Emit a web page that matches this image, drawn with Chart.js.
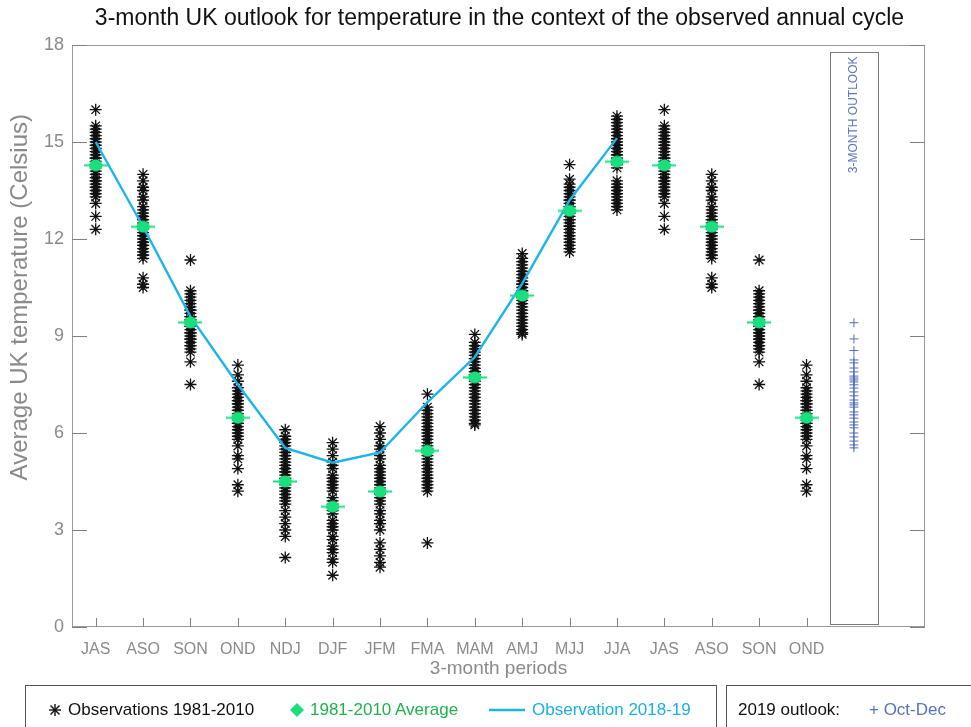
<!DOCTYPE html>
<html>
<head>
<meta charset="utf-8">
<script src="https://cdn.jsdelivr.net/npm/chart.js@4.4.1/dist/chart.umd.min.js"></script>
<style>
  html, body { margin: 0; padding: 0; background: #fff; }
  #wrap { position: relative; width: 971px; height: 727px; overflow: hidden;
          font-family: "Liberation Sans", Arial, sans-serif; }
  #title { position: absolute; left: 14px; top: 4px; width: 971px; text-align: center;
           font-size: 23px; color: #111; }
  #chart { position: absolute; left: 0; top: 0; }
  .box { position: absolute; top: 685px; height: 60px; border: 1px solid #555; box-sizing: border-box; }
  .item { position: absolute; top: 14px; font-size: 17px; white-space: nowrap; line-height: 20px; }
</style>
</head>
<body>
<div id="wrap">
  <canvas id="chart" width="971" height="727"></canvas>
  <div id="title">3-month UK outlook for temperature in the context of the observed annual cycle</div>
  <div class="box" style="left:25px; width:692px;">
    <svg width="14" height="14" style="position:absolute; left:22px; top:17px;" viewBox="0 0 14 14">
      <g stroke="#111" stroke-width="1.4"><line x1="7" y1="1" x2="7" y2="13"/><line x1="1" y1="7" x2="13" y2="7"/><line x1="2.5" y1="2.5" x2="11.5" y2="11.5"/><line x1="11.5" y1="2.5" x2="2.5" y2="11.5"/></g>
    </svg>
    <div class="item" style="left:42px; color:#111;">Observations 1981-2010</div>
    <svg width="14" height="14" style="position:absolute; left:264px; top:17px;" viewBox="0 0 14 14">
      <polygon points="7,0 14,7 7,14 0,7" fill="#19e07f"/>
    </svg>
    <div class="item" style="left:284px; color:#22b04c;">1981-2010 Average</div>
    <svg width="36" height="14" style="position:absolute; left:463px; top:17px;" viewBox="0 0 36 14">
      <line x1="0" y1="7" x2="36" y2="7" stroke="#1bb5ec" stroke-width="2.5"/>
    </svg>
    <div class="item" style="left:506px; color:#1ab0e6;">Observation 2018-19</div>
  </div>
  <div class="box" style="left:726px; width:260px;">
    <div class="item" style="left:11px; color:#111;">2019 outlook:</div>
    <div class="item" style="left:142px; color:#5573bd;">+ Oct-Dec</div>
  </div>
</div>
<script>
// ---- 3-month periods along the x axis ----
const periods = ['JAS','ASO','SON','OND','NDJ','DJF','JFM','FMA','MAM','AMJ','MJJ','JJA','JAS','ASO','SON','OND'];
const yTicks = [0, 3, 6, 9, 12, 15, 18];

// ---- observed 3-month mean UK temperatures, 1981-2010 (deg C) ----
const obsJAS = [16.0,15.5,15.4,15.3,15.2,15.1,15.0,14.9,14.8,14.7,14.6,14.5,14.5,14.4,14.3,14.3,14.2,14.1,14.0,13.9,13.8,13.8,13.7,13.6,13.5,13.4,13.3,13.1,12.7,12.3];
const obsASO = [14.0,13.8,13.6,13.5,13.3,13.2,13.0,12.9,12.8,12.7,12.6,12.6,12.5,12.4,12.4,12.3,12.2,12.1,12.0,11.9,11.8,11.8,11.7,11.6,11.5,11.5,11.4,10.8,10.6,10.5];
const obsSON = [11.35,10.4,10.3,10.2,10.1,10.0,9.9,9.8,9.8,9.7,9.6,9.6,9.5,9.5,9.4,9.3,9.3,9.2,9.1,9.1,9.0,8.9,8.9,8.8,8.7,8.7,8.6,8.5,8.2,7.5];
const obsOND = [8.1,7.8,7.6,7.4,7.3,7.2,7.1,7.0,7.0,6.9,6.9,6.8,6.7,6.7,6.6,6.5,6.4,6.3,6.3,6.2,6.1,6.0,5.9,5.8,5.6,5.3,5.2,4.9,4.4,4.2];
const obsNDJ = [6.1,5.9,5.8,5.7,5.6,5.5,5.4,5.3,5.2,5.1,5.0,4.9,4.8,4.8,4.7,4.6,4.5,4.4,4.3,4.2,4.1,4.0,3.9,3.8,3.6,3.4,3.2,3.0,2.8,2.15];
const obsDJF = [5.7,5.5,5.3,5.1,5.0,4.9,4.7,4.6,4.5,4.4,4.3,4.2,4.0,3.9,3.8,3.7,3.6,3.5,3.3,3.2,3.1,3.0,2.8,2.7,2.5,2.4,2.3,2.1,2.0,1.6];
const obsJFM = [6.2,6.0,5.8,5.6,5.5,5.3,5.2,5.0,4.9,4.8,4.7,4.6,4.5,4.4,4.3,4.2,4.1,4.0,3.9,3.8,3.6,3.5,3.3,3.2,3.0,2.6,2.4,2.2,2.0,1.85];
const obsFMA = [7.2,6.8,6.7,6.6,6.5,6.4,6.3,6.2,6.1,6.0,5.9,5.8,5.7,5.6,5.5,5.5,5.4,5.3,5.2,5.1,5.0,4.9,4.8,4.7,4.6,4.5,4.4,4.3,4.2,2.6];
const obsMAM = [9.05,8.8,8.7,8.6,8.5,8.4,8.3,8.2,8.1,8.0,7.9,7.9,7.8,7.8,7.7,7.6,7.5,7.4,7.3,7.2,7.1,7.0,6.9,6.8,6.7,6.6,6.5,6.4,6.3,6.25];
const obsAMJ = [11.55,11.4,11.3,11.2,11.1,11.0,10.9,10.8,10.7,10.6,10.6,10.5,10.4,10.4,10.3,10.3,10.2,10.2,10.1,10.0,9.9,9.8,9.7,9.6,9.5,9.4,9.3,9.2,9.1,9.05];
const obsMJJ = [14.3,13.85,13.7,13.6,13.5,13.4,13.3,13.2,13.2,13.1,13.0,13.0,12.9,12.9,12.8,12.8,12.7,12.6,12.6,12.5,12.4,12.4,12.3,12.2,12.1,12.0,11.9,11.8,11.7,11.6];
const obsJJA = [15.8,15.7,15.6,15.5,15.4,15.3,15.2,15.1,15.0,14.9,14.9,14.8,14.7,14.6,14.6,14.5,14.5,14.4,14.3,14.2,13.8,13.7,13.6,13.5,13.4,13.3,13.2,13.1,13.0,12.9];
const obsByPeriod = [obsJAS, obsASO, obsSON, obsOND, obsNDJ, obsDJF, obsJFM, obsFMA, obsMAM, obsAMJ, obsMJJ, obsJJA, obsJAS, obsASO, obsSON, obsOND];

// ---- 1981-2010 average for each period ----
const avg1981to2010 = [14.28, 12.38, 9.42, 6.47, 4.5, 3.72, 4.19, 5.45, 7.72, 10.25, 12.87, 14.39, 14.28, 12.38, 9.42, 6.47];

// ---- observed 2018-19 values (JAS 2018 to JJA 2019) ----
const obs2018to19 = [15.0, 12.38, 9.6, 7.5, 5.54, 5.08, 5.4, 6.95, 8.35, 10.62, 13.2, 15.12];

// ---- Oct-Dec 2019 outlook ensemble ----
const outlookOctDec = [9.41,8.91,8.55,8.26,8.17,8.01,7.89,7.76,7.70,7.64,7.58,7.49,7.39,7.27,7.15,7.02,6.93,6.87,6.80,6.65,6.56,6.46,6.34,6.25,6.16,6.00,5.88,5.75,5.63,5.54];

const GREY = '#8a8a8a';
const GREEN = '#19e07f';
const CYAN = '#1bb5ec';
const BLUE = '#4f6db8';
const FONT = '"Liberation Sans", Arial, sans-serif';
const Y_TITLE = 'Average UK temperature (Celsius)';

// average marker: filled dot with a short horizontal bar
function averageMarker() {
  const c = document.createElement('canvas');
  c.width = 24; c.height = 13;
  const g = c.getContext('2d');
  g.strokeStyle = GREEN; g.lineWidth = 2;
  g.beginPath(); g.moveTo(0, 6.5); g.lineTo(24, 6.5); g.stroke();
  g.fillStyle = GREEN;
  g.beginPath(); g.ellipse(12, 6.5, 6.5, 6, 0, 0, Math.PI * 2); g.fill();
  return c;
}

const obsPoints = [];
obsByPeriod.forEach((vals, i) => vals.forEach(v => obsPoints.push({ x: i, y: v })));
const avgPoints = avg1981to2010.map((v, i) => ({ x: i, y: v }));
const linePoints = obs2018to19.map((v, i) => ({ x: i, y: v }));
const outlookSlot = periods.length;
const outlookPoints = outlookOctDec.map(v => ({ x: outlookSlot, y: v }));

// frame, inward tick marks, y title and the outlook panel
const framePlugin = {
  id: 'frame',
  beforeDatasetsDraw(chart) {
    const { ctx, chartArea: a, scales: { x, y } } = chart;
    ctx.save();
    ctx.lineWidth = 1;
    ctx.strokeStyle = '#9a9a9a';
    ctx.strokeRect(a.left + 0.5, a.top + 0.5, a.right - a.left - 1, a.bottom - a.top - 1);
    ctx.strokeStyle = '#808080';
    ctx.beginPath();
    y.ticks.forEach(t => {
      const py = Math.round(y.getPixelForValue(t.value)) + 0.5;
      ctx.moveTo(a.left, py); ctx.lineTo(a.left + 15, py);
      ctx.moveTo(a.right, py); ctx.lineTo(a.right - 15, py);
    });
    x.ticks.forEach(t => {
      const px = Math.round(x.getPixelForValue(t.value)) + 0.5;
      ctx.moveTo(px, a.bottom); ctx.lineTo(px, a.bottom - 9);
    });
    ctx.stroke();

    // outlook panel
    const l = Math.round(x.getPixelForValue(outlookSlot - 0.5)) + 0.5;
    const r = Math.round(x.getPixelForValue(outlookSlot + 0.5)) + 0.5;
    const t = a.top + 7.5, b = a.bottom - 2.5;
    ctx.strokeStyle = '#7a7a7a';
    ctx.strokeRect(l, t, r - l, b - t);
    ctx.save();
    ctx.translate(x.getPixelForValue(outlookSlot), t + 4);
    ctx.rotate(-Math.PI / 2);
    ctx.fillStyle = '#5b78c0';
    ctx.font = '12px ' + FONT;
    ctx.textAlign = 'right';
    ctx.textBaseline = 'middle';
    ctx.fillText('3-MONTH OUTLOOK', 0, 0);
    ctx.restore();

    // y axis title
    ctx.translate(20, y.getPixelForValue(10.2));
    ctx.rotate(-Math.PI / 2);
    ctx.fillStyle = GREY;
    ctx.font = '24px ' + FONT;
    ctx.textAlign = 'center';
    ctx.textBaseline = 'middle';
    ctx.fillText(Y_TITLE, 0, 0);
    ctx.restore();
  }
};

new Chart(document.getElementById('chart'), {
  type: 'scatter',
  data: {
    datasets: [
      { label: 'Observations 1981-2010', data: obsPoints, pointStyle: 'star', radius: 6,
        borderColor: '#111', backgroundColor: '#111', borderWidth: 1.3, order: 3 },
      { label: 'Observation 2018-19', data: linePoints, showLine: true, borderColor: CYAN,
        borderWidth: 2.4, pointRadius: 0, order: 2 },
      { label: '1981-2010 Average', data: avgPoints, pointStyle: averageMarker(), order: 1 },
      { label: 'Oct-Dec', data: outlookPoints, pointStyle: 'cross', radius: 4.5,
        borderColor: BLUE, borderWidth: 1, order: 4 }
    ]
  },
  options: {
    responsive: false,
    animation: false,
    events: [],
    layout: { padding: { left: 0, right: 46, top: 45, bottom: 47 } },
    plugins: { legend: { display: false }, tooltip: { enabled: false }, title: { display: false } },
    scales: {
      x: {
        type: 'linear', min: -0.5, max: periods.length + 1.5,
        afterBuildTicks: s => { s.ticks = periods.map((_, i) => ({ value: i })); },
        afterFit: s => { s.height = 53; },
        grid: { display: false, drawTicks: false },
        border: { display: false },
        ticks: { autoSkip: false, maxRotation: 0, padding: 13, color: GREY,
                 font: { family: FONT, size: 16 }, callback: v => periods[v] },
        title: { display: true, text: '3-month periods', color: GREY, padding: { top: 0, bottom: 0 },
                 font: { family: FONT, size: 19 } }
      },
      y: {
        min: 0, max: 18,
        afterBuildTicks: s => { s.ticks = yTicks.map(v => ({ value: v })); },
        afterFit: s => { s.width = 72; },
        grid: { display: false, drawTicks: false },
        border: { display: false },
        ticks: { padding: 8, color: GREY, font: { family: FONT, size: 18 } },
        title: { display: false }
      }
    }
  },
  plugins: [framePlugin]
});
</script>
</body>
</html>
